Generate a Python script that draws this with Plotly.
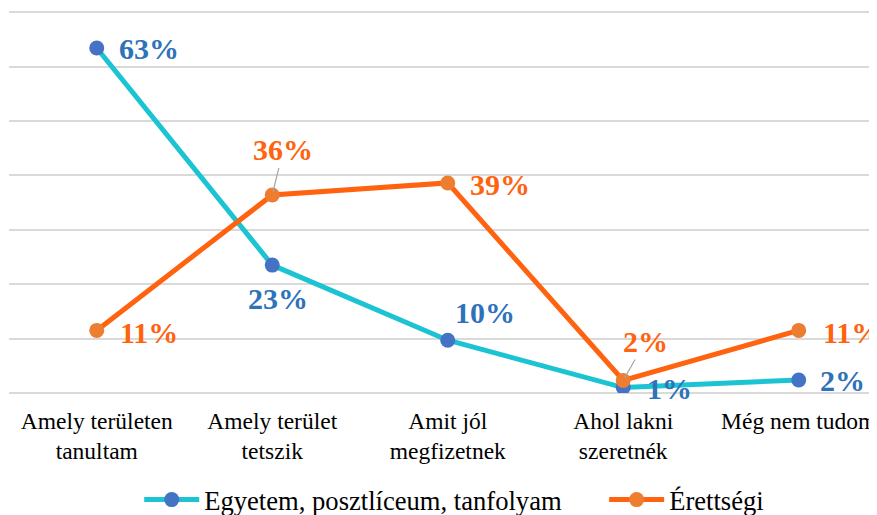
import plotly.graph_objects as go

categories = ["Amely területen<br>tanultam", "Amely terület<br>tetszik", "Amit jól<br>megfizetnek",
              "Ahol lakni<br>szeretnék", "Még nem tudom"]
series_names = ["Egyetem, posztlíceum, tanfolyam", "Érettségi"]
egyetem = [63.4, 23.5, 9.7, 1.0, 2.4]
erettsegi = [11.5, 36.4, 38.6, 2.3, 11.5]
egyetem_labels = ["63%", "23%", "10%", "1%", "2%"]
erettsegi_labels = ["11%", "36%", "39%", "2%", "11%"]

BLUE_LINE = "#1BC3D3"
BLUE_MARK = "#4472C4"
BLUE_TXT = "#2E72BA"
OR_LINE = "#FF6310"
OR_MARK = "#ED7D31"
OR_TXT = "#FF6310"
FONT = "Liberation Serif"

fig = go.Figure()
fig.add_trace(go.Scatter(x=categories, y=egyetem, name=series_names[0], mode="lines+markers",
                         line=dict(color=BLUE_LINE, width=5),
                         marker=dict(color=BLUE_MARK, size=15), legend="legend"))
fig.add_trace(go.Scatter(x=categories, y=erettsegi, name=series_names[1], mode="lines+markers",
                         line=dict(color=OR_LINE, width=5),
                         marker=dict(color=OR_MARK, size=15), legend="legend2"))

# label offsets (px) of text centre relative to point: (dx, dy down)
blue_off = [(52, 0), (6, 33), (37, -28), (46, 1), (44, 1)]
or_off = [(52, 2), (11, -45), (52, 2), (22, -39), (53, 2)]
leader = [False, True, False, True, False]
LBL = 30

for i, (c, v, t) in enumerate(zip(categories, egyetem, egyetem_labels)):
    dx, dy = blue_off[i]
    fig.add_annotation(x=c, y=v, text=t, showarrow=False, xshift=dx, yshift=-dy,
                       font=dict(family=FONT, size=LBL, color=BLUE_TXT, weight="bold"))
for i, (c, v, t) in enumerate(zip(categories, erettsegi, erettsegi_labels)):
    dx, dy = or_off[i]
    if leader[i]:
        fig.add_annotation(x=c, y=v, text=t, showarrow=True, ax=dx, ay=dy,
                           arrowhead=0, arrowwidth=1.2, arrowcolor="#A6A6A6", standoff=3,
                           font=dict(family=FONT, size=LBL, color=OR_TXT, weight="bold"))
    else:
        fig.add_annotation(x=c, y=v, text=t, showarrow=False, xshift=dx, yshift=-dy,
                           font=dict(family=FONT, size=LBL, color=OR_TXT, weight="bold"))

leg_common = dict(orientation="h", xref="container", yref="container", y=0.03,
                  xanchor="left", yanchor="middle", font=dict(size=26.6, family=FONT),
                  itemwidth=55)

fig.update_layout(
    width=869, height=507,
    margin=dict(l=1, r=0, t=3, b=122),
    plot_bgcolor="white", paper_bgcolor="white",
    font=dict(family=FONT, color="black"),
    showlegend=True,
    legend=dict(x=0.151, **leg_common),
    legend2=dict(x=0.686, **leg_common),
    xaxis=dict(range=[-0.5, 4.446], showgrid=False, showline=False, zeroline=False,
               ticks="", ticklabelstandoff=11,
               tickfont=dict(size=23.5, family=FONT, color="black")),
    yaxis=dict(range=[0, 70.2], dtick=10, showticklabels=False, gridcolor="#D9D9D9",
               gridwidth=1.5, zeroline=True, zerolinecolor="#D9D9D9", zerolinewidth=1.5,
               showline=False, ticks=""),
)

fig.write_html("out.html")
